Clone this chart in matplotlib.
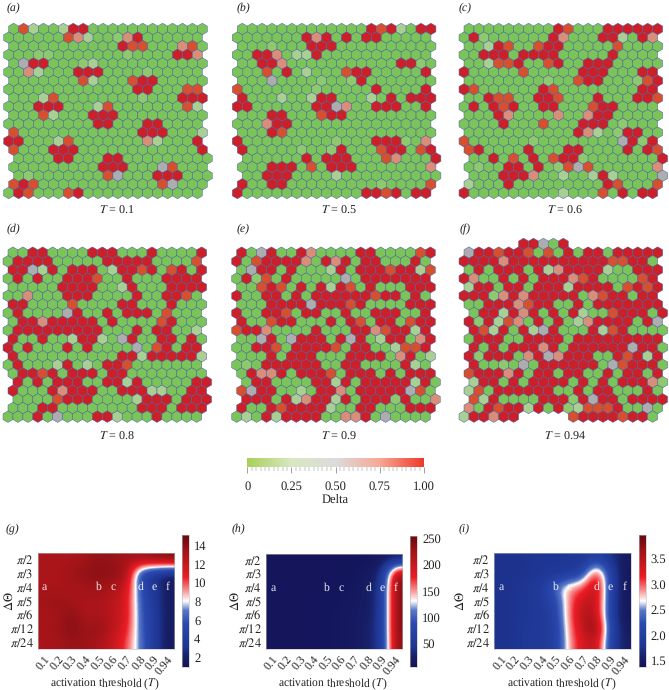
import numpy as np
import matplotlib
matplotlib.use("Agg")
import matplotlib.pyplot as plt
from matplotlib.collections import PolyCollection
from matplotlib.colors import LinearSegmentedColormap

plt.rcParams['font.family'] = ['Liberation Serif', 'DejaVu Serif']
plt.rcParams['mathtext.fontset'] = 'stix'
plt.rcParams['text.hinting'] = 'none'

# SOM maps: one string per row of hexagons, each letter is a delta level
delta_levels = {'.': 0.0, 'm': 0.2, 'l': 0.33, 'g': 0.5, 's': 0.7, 'o': 0.85, 'r': 1.0}

map_a = [
    ".ol..lrr............",
    "......osl..msr......",
    "...........roo...so.",
    "...mm.......m....rrs",
    ".grr...ml...........",
    "..sl...rrr....m.....",
    ".......ol...orr.....",
    ".............rr...oo",
    "...lo........m...rrr",
    "...rrr...lo.......ol",
    "...ol...rrr.........",
    ".........rr...rr....",
    "o............rrr...l",
    "rr...lo.......sl...r",
    "o...rrr............r",
    "....rr...rr.........",
    ".........rrr...go...",
    ".m.......og...rrr...",
    "oro............og...",
    ".ro...or............",
]
map_b = [
    ".............rorl.rr",
    ".......rsr.r.rr.....",
    "...m...rrr..........",
    "..rrs.llr...........",
    "..rrs...........rrm.",
    "...o.r.l...orr.....r",
    "...g....m..mr.......",
    "o.......m.....r....r",
    "r...l..lrr...l.r.rrr",
    "rr......rrgs..rrr..r",
    "...rr...orr.........",
    "...srr..............",
    "...ro...............",
    "r.........m...rrrm.s",
    "r.....m..mr...orr.or",
    "......r.rrr...os...r",
    "...rrr.o.rrr.......s",
    "..rrr....l..........",
    "r..rr.........m....o",
    "r............rror.rr",
]
map_c = [
    ".........ro...rrrrrr",
    ".rm......rs...rrl.rs",
    "..lro..orr.....o....",
    "..rrr.rrrr.....r....",
    "..loor..or..rrr.....",
    "r.....o.....rrr...rr",
    "........m..orr...mor",
    "ro......ro........rr",
    "..roo..rro...r...rro",
    ".r.ror..rr...orr....",
    "...rs....s..srr.....",
    "....r...o...rrr.m...",
    "...........rsl.mrr..",
    "o......m........grmr",
    "or....r...rr....r.ro",
    "..r.o.r.orrm.......r",
    ".m..rr.r.mogo......s",
    "...rrrs..l..lrl....g",
    "l...r.........ro...o",
    "r.........l...o.r.rr",
]
map_d = [
    "..rr....rrr...r....r",
    ".rrrr.....rrrrr....o",
    "rrglr.rrr.lrror.or.r",
    ".r.r..rrro..r...rrrr",
    ".....rrrr..lr...rrrr",
    "..s...rrr....r..rro.",
    "rr....o....rr...r...",
    ".r....gr..r.rrr.o...",
    ".rrsrrrrr.r....or...",
    ".rrrrrrrrr...r.rr..l",
    "r..r..lrrl.gr..rr.r.",
    "r.r...r.r....g.or.rr",
    "r..........rrlrrrrrl",
    ".r...lr.l.rro.......",
    ".rror.rrr.rr........",
    "r.r.rrr..rrlr.....rr",
    "r...rsrrr..rrrll..rr",
    "....orrr....lrrr.rrr",
    "...rr........rrr.rrr",
    "...r.g...rrl...r....",
]
map_e = [
    "r.gr..rs....rr....or",
    "r.orrrrs.rsr.rr...r.",
    ".grr.r...lr.rrrorrlo",
    ".rmo.r.....g.rrrrrrr",
    "..oro.r.rlro.r...rrr",
    "r..rr.r.rrrrrrorr.r.",
    "...rrrrgrrror....rrr",
    "r..rro.rr..r..rrr..r",
    "r..orr...r.ro.rr.orr",
    "orrs....r...rrsorrlr",
    "..gr.grrr.rgr.lrr.sr",
    "..rro.rrrro.rr..loor",
    "...r.rrr...rrrr.sr.l",
    ".m.rrrrrr..rr....rl.",
    ".rssr.rrro.rrr.r.rrr",
    ".rr....rrlr.rrrrrlr.",
    "ogrr..l.rrs.rrrrrgo.",
    "rrr.rlsrrlr.rrrmr..s",
    "r..rorrrrl..rr...rrr",
    ".l.rlrrrr..ssr.g....",
]
map_f = [
    "      rrg.r         ",
    "grrorro.o.r.rr.rrrrr",
    "rrrrsrrrrrrrrrroorr.",
    ".r.rrr.rlsrrrrl..rrr",
    "rs..r.r.rrrsor....or",
    "lrr.rr.rrrlrrrr.oror",
    "rrrmsrsrrrrr.sorr.rr",
    "..rrrsorr..r.rrrrrrr",
    ".rrlrsr.r.rl..orrr.r",
    "rmrlos.r.r.lsrrrr.rg",
    "rolr.rlgr...rlor....",
    ".rrr..rrrr.rrrrrrrrr",
    "r.r.rrrsr.rrrrrrgrr.",
    "rmrrr.srgsrrr..rorlr",
    "r..m.g.rrrrrr.gorrr.",
    "orrrsr.rr.rr..r.rr.r",
    "lrr.r.rrrr.r.r.rrrsm",
    "lo.rrrrrr..r.rr...r.",
    "olr....rrrmrgrr.rrrr",
    "s.rorrlr.rmlooor..g.",
    "lrrsrr     orrrrorr.",
]
# sideways offset of each row, in half cells
row_shift = [1, 0, 1, 0, 1, 0, 1, 0, 1, 0, 1, 0, 1, 0, 1, 2, 1, 2, 1, 0]
row_shift_f = [0, 1, 0, 1, 0, 1, 0, 1, 2, 1, 2, 1, 2, 1, 2, 1, 2, 1, 2, 1, 0]

map_titles = ['0.1', '0.5', '0.6', '0.8', '0.9', '0.94']
map_letters = ['a', 'b', 'c', 'd', 'e', 'f']

# heatmaps
thresholds = ['0.1', '0.2', '0.3', '0.4', '0.5', '0.6', '0.7', '0.8', '0.9', '0.94']
angles = [r'$\pi/2$', r'$\pi/3$', r'$\pi/4$', r'$\pi/5$', r'$\pi/6$', r'$\pi/12$', r'$\pi/24$']

heat_g = [
    [13.0, 13.0, 13.0, 13.2, 13.8, 13.5, 13.2, 13.6, 14.0, 14.6],
    [13.0, 13.0, 13.4, 14.0, 14.0, 14.0, 13.4, 4.5, 2.8, 1.6],
    [13.0, 13.0, 13.0, 13.2, 13.4, 13.0, 12.0, 5.5, 3.6, 1.7],
    [13.4, 13.6, 13.2, 13.0, 13.0, 12.4, 11.4, 6.0, 3.6, 1.7],
    [13.0, 13.2, 14.0, 12.8, 13.0, 12.5, 11.4, 6.2, 3.8, 1.7],
    [13.2, 13.4, 14.2, 13.4, 13.8, 12.4, 11.0, 6.4, 3.8, 1.7],
    [13.0, 13.2, 13.6, 13.4, 13.0, 12.0, 10.0, 6.8, 3.8, 1.6],
]
heat_h = [
    [7, 7, 7, 7, 8, 8, 9, 10, 15, 22],
    [7, 7, 7, 7, 8, 9, 10, 14, 35, 235],
    [7, 7, 7, 8, 8, 10, 12, 18, 50, 245],
    [7, 7, 7, 8, 9, 11, 13, 20, 50, 245],
    [7, 7, 7, 8, 10, 12, 14, 22, 50, 245],
    [7, 7, 7, 8, 10, 12, 15, 25, 50, 245],
    [7, 7, 7, 8, 10, 12, 15, 25, 50, 240],
]
heat_i = [
    [1.75, 1.75, 1.75, 1.8, 1.8, 1.8, 1.8, 2.05, 1.75, 1.5],
    [1.75, 1.75, 1.75, 1.8, 1.8, 1.85, 2.1, 3.4, 2.0, 1.45],
    [1.75, 1.75, 1.8, 1.9, 2.45, 2.9, 3.0, 3.6, 2.0, 1.45],
    [1.75, 1.75, 1.8, 1.9, 2.1, 2.95, 3.4, 3.5, 2.0, 1.45],
    [1.75, 1.75, 1.8, 1.85, 2.05, 2.95, 3.55, 3.5, 1.95, 1.45],
    [1.75, 1.75, 1.85, 1.9, 1.95, 2.9, 3.45, 3.85, 2.05, 1.5],
    [1.75, 1.75, 1.85, 1.9, 1.95, 2.85, 3.3, 3.5, 2.0, 1.55],
]

W, H = 669, 690
fig = plt.figure(figsize=(W / 100, H / 100), dpi=100)


def px_axes(x0, y0, x1, y1):
    # axes from pixel box, y measured from the top
    return fig.add_axes([x0 / W, 1 - y1 / H, (x1 - x0) / W, (y1 - y0) / H])


def px_text(x, y, s, **kw):
    fig.text(x / W, 1 - y / H, s, ha=kw.pop('ha', 'center'), va='center', color='#222222', **kw)


hex_cmap = LinearSegmentedColormap.from_list('hex', [
    (0.0, '#7ac45a'), (0.2, '#8ec96e'), (0.33, '#a9cf93'), (0.5, '#adadb0'),
    (0.7, '#d88f7a'), (0.85, '#d6502f'), (1.0, '#cb1f29')])
bar_cmap = LinearSegmentedColormap.from_list('bar', [
    (0.0, '#a9d05a'), (0.25, '#d8e8c0'), (0.5, '#dcdcdc'), (0.75, '#f8a896'), (1.0, '#ee3a2a')])
heat_cmap = LinearSegmentedColormap.from_list('heat', [
    (0.0, '#14145a'), (0.08, '#182068'), (0.15, '#1e3592'), (0.33, '#2a4ab0'), (0.43, '#5a78c8'),
    (0.5, '#ffffff'), (0.57, '#f8a0a0'), (0.68, '#ee1c25'), (0.88, '#a01418'), (1.0, '#640a10')])

pitch, row_h = 9.93, 8.63
unit_hex = np.array([[0, -2 / 3], [0.5, -1 / 3], [0.5, 1 / 3], [0, 2 / 3], [-0.5, 1 / 3], [-0.5, -1 / 3]])


def draw_map(rows, shifts, x_left, y_top):
    n = len(rows)
    ax = px_axes(x_left - 2 * pitch, y_top - 2 * row_h, x_left + 22 * pitch, y_top + (n + 1) * row_h)
    ax.set_xlim(-2, 22)
    ax.set_ylim(n + 1, -2)
    ax.axis('off')
    verts, vals = [], []
    for r, row in enumerate(rows):
        for c, ch in enumerate(row):
            if ch == ' ':
                continue
            verts.append(unit_hex + [c + shifts[r] / 2, r])
            vals.append(delta_levels[ch])
    ax.add_collection(PolyCollection(verts, array=np.array(vals), cmap=hex_cmap, clim=(0, 1),
                                     edgecolors='#47609a', linewidths=0.35))


draw_map(map_a, row_shift, 8.7, 29)
draw_map(map_b, row_shift, 237.3, 29)
draw_map(map_c, row_shift, 464, 29)
draw_map(map_d, row_shift, 8, 252.7)
draw_map(map_e, row_shift, 236.7, 252.7)
draw_map(map_f, row_shift_f, 464, 244)

label_x = [13, 243, 465, 13, 243, 465]
label_y = [8, 8, 8, 229, 229, 229]
title_x = [117, 339, 565, 117, 339, 565]
title_y = [210, 210, 210, 436, 436, 436]
for i in range(6):
    px_text(label_x[i], label_y[i], '(' + map_letters[i] + ')', fontsize=8.5, style='italic')
    px_text(title_x[i], title_y[i], r'$T$ = ' + map_titles[i], fontsize=8.7)

# Delta colour bar
cax = px_axes(247.3, 458.3, 424, 467.3)
cax.imshow(np.linspace(0, 1, 256)[None, :], cmap=bar_cmap, aspect='auto', extent=[0, 1, 0, 1])
cax.set_yticks([])
cax.set_xticks([0, 0.25, 0.5, 0.75, 1.0], ['0', '0.25', '0.50', '0.75', '1.00'], fontsize=9, color='#222222')
cax.set_xticks(np.arange(0, 1.001, 0.025), minor=True)
cax.tick_params(axis='x', which='major', length=4.5, width=0.4, color='#555555', pad=5)
cax.tick_params(axis='x', which='minor', length=3.2, width=0.3, color='#777777')
for s in cax.spines.values():
    s.set_visible(False)
px_text(335.5, 500, 'Delta', fontsize=9)


def draw_heat(data, box, cbar_box, vlim, ticks, tick_fmt, letter, letter_x, ylabel_x):
    ax = px_axes(*box)
    ax.imshow(data, cmap=heat_cmap, vmin=vlim[0], vmax=vlim[1], aspect='auto', interpolation='bicubic')
    ax.set_xticks(range(10))
    ax.set_xticklabels(thresholds, rotation=50, ha='right', rotation_mode='anchor', fontsize=8.5, color='#222222')
    ax.set_yticks(range(7))
    ax.set_yticklabels(angles, fontsize=9, color='#222222')
    ax.tick_params(length=0, pad=3)
    ax.tick_params(axis='x', pad=4)
    for s in ax.spines.values():
        s.set_color('#bbbbbb')
        s.set_linewidth(0.4)
    # letters mark the thresholds of the maps above
    for name, col in zip(map_letters, [0, 4, 5, 7, 8, 9]):
        ax.text(col, 2, name, color='white', fontsize=8.5, ha='center', va='center', alpha=0.9)
    cx = px_axes(*cbar_box)
    cx.imshow(np.linspace(vlim[1], vlim[0], 256)[:, None], cmap=heat_cmap, vmin=vlim[0], vmax=vlim[1],
              aspect='auto', extent=[0, 1, vlim[0], vlim[1]])
    cx.set_xticks([])
    cx.yaxis.tick_right()
    cx.set_yticks(ticks, [tick_fmt % t for t in ticks], fontsize=9, color='#222222')
    cx.tick_params(length=0, pad=3.5)
    for s in cx.spines.values():
        s.set_color('#bbbbbb')
        s.set_linewidth(0.4)
    px_text(letter_x, 529, '(' + letter + ')', fontsize=8.5, style='italic')
    px_text((box[0] + box[2]) / 2 - 1, 684, r'activation threshold ($T$)', fontsize=8.3)
    px_text(ylabel_x, 601, r'$\Delta\Theta$', fontsize=9, rotation=90)


draw_heat(heat_g, (37.7, 553.3, 174.3, 649), (182.3, 535.3, 189.3, 666.7), (1.04, 15.07),
          [2, 4, 6, 8, 10, 12, 14], '%d', 'g', 12.5, 9)
draw_heat(heat_h, (266, 553.7, 402.3, 649), (410.3, 535.7, 417.3, 667), (4.8, 255.7),
          [50, 100, 150, 200, 250], '%d', 'h', 238, 235)
draw_heat(heat_i, (494.3, 553.3, 631, 649), (639, 535.3, 646, 666.7), (1.38, 3.96),
          [1.5, 2.0, 2.5, 3.0, 3.5], '%.1f', 'i', 464, 460)

fig.savefig('out.png', dpi=100)
